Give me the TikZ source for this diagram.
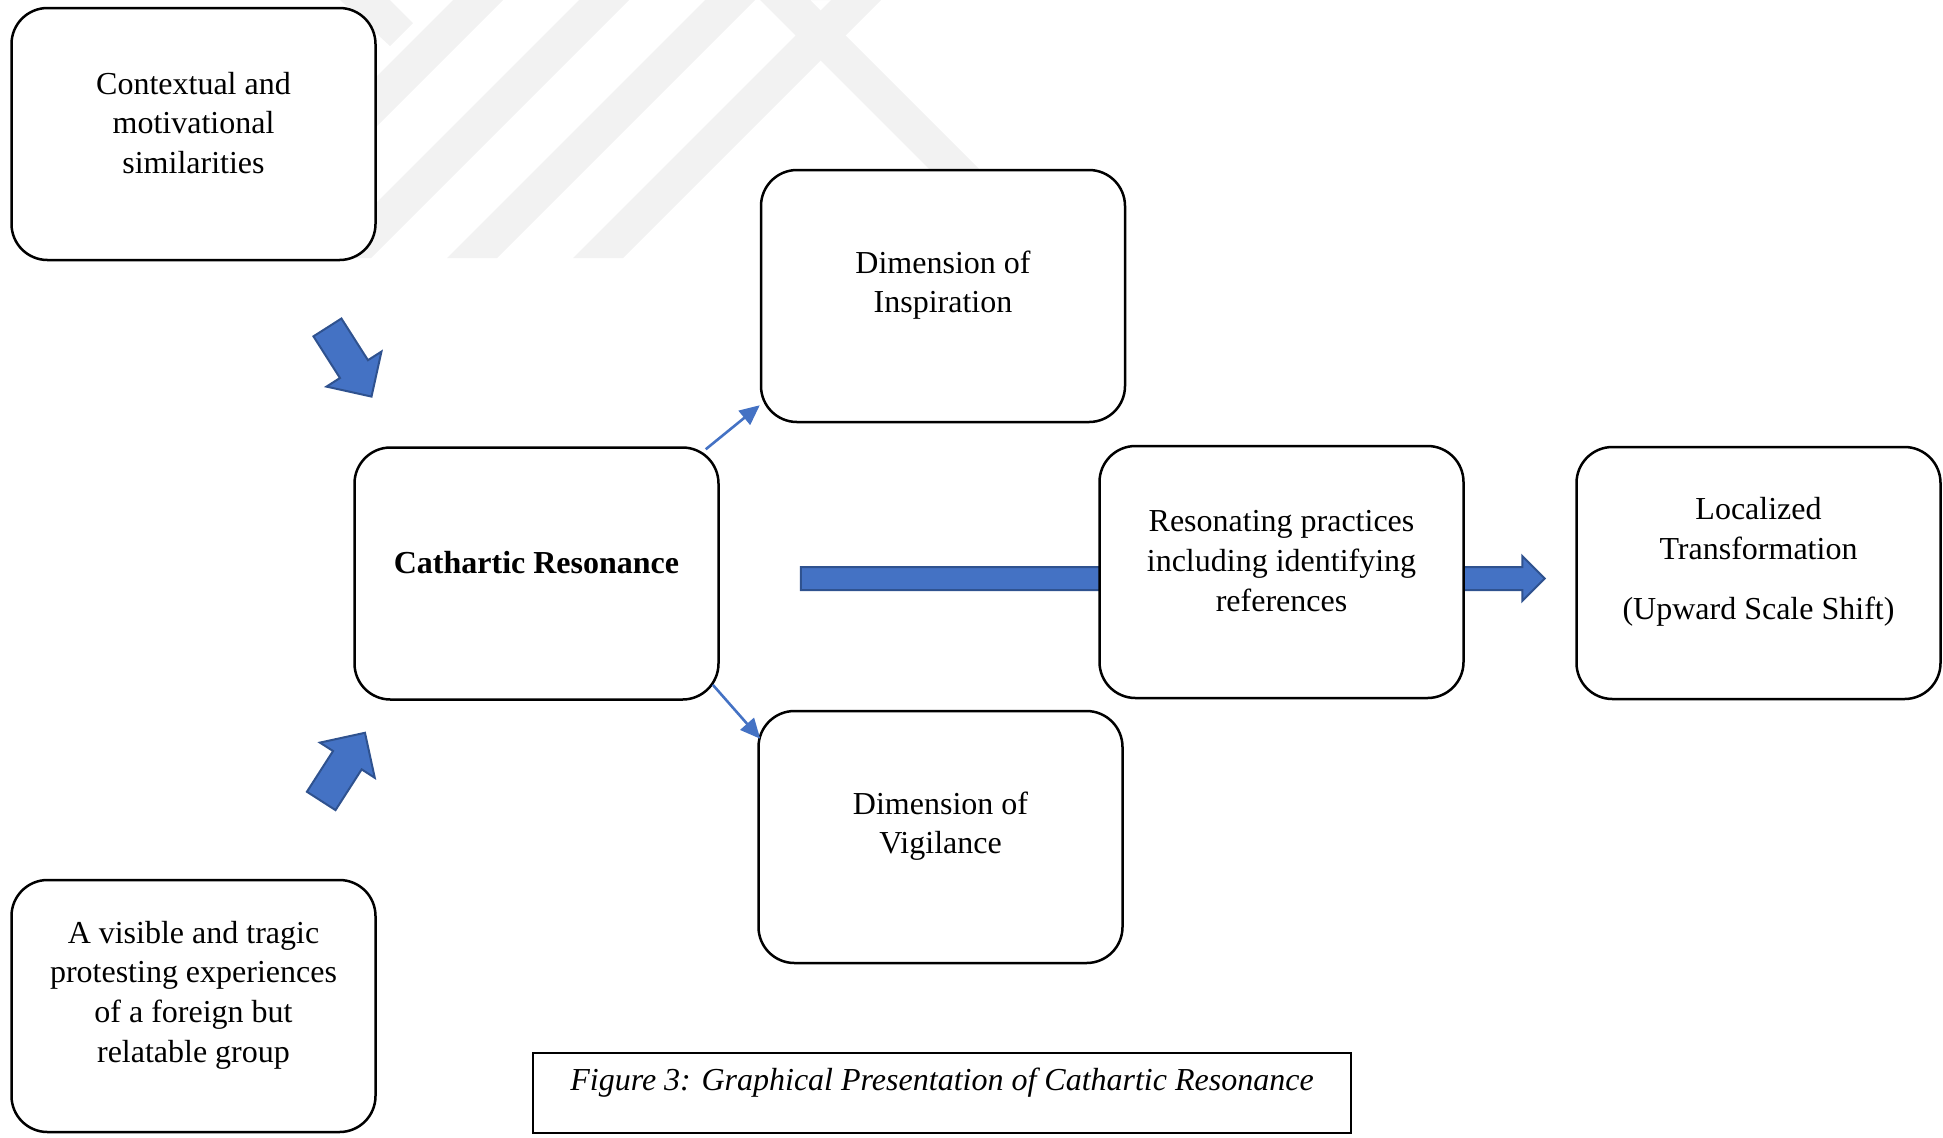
\documentclass[tikz,border=0pt]{standalone}
\usepackage{fontspec}
\setmainfont{Liberation Serif}
\usetikzlibrary{arrows.meta,shapes.arrows,calc,positioning}
\definecolor{accent}{RGB}{68,114,196}
\definecolor{accentdark}{RGB}{47,82,143}
\definecolor{wmgrey}{RGB}{242,242,242}
\tikzstyle{card}=[draw,line width=1.25pt,rounded corners=18pt,fill=white,minimum width=182pt,minimum height=126pt,inner sep=0pt]
\tikzstyle{card text}=[align=center,font=\fontsize{16}{19.8}\selectfont,inner sep=0pt]
\tikzstyle{thin link}=[draw=accent,line width=1.3pt,-{Triangle[length=10pt,width=9pt]}]
\tikzstyle{block arrow}=[single arrow,fill=accent,draw=accentdark,line width=1pt,inner xsep=0pt,single arrow tip angle=90]

\begin{document}
\begin{tikzpicture}[x=0.5pt,y=-0.5pt]
    \useasboundingbox (0,0) rectangle (1943,1137);

    % faint watermark behind the top left
    \begin{scope}
        \clip (160,0) rectangle (980,258);
        \foreach \c in {453,579,705,831}
            \fill[wmgrey] (\c,0) -- (\c+50,0) -- (\c+50-258,258) -- (\c-258,258) -- cycle;
        \fill[wmgrey] (880,0) -- (810,0) -- (1068,258) -- (1018,258) -- (760,0) -- (880,0) -- cycle;
        \fill[wmgrey] (340,0) -- (390,0) -- (413,23) -- (390,46) -- cycle;
    \end{scope}

    % the long arrow runs behind the practices box
    \node[block arrow, minimum height=372pt, inner ysep=5.25pt, single arrow head extend=5.5pt] (flow) at (1167,578.5) {};

    % First we draw the boxes
    \foreach \name/\where/\txt in {
        ctx/{(193.5,134)}/{Contextual and\\motivational\\similarities},
        insp/{(943,296)}/{Dimension of\\Inspiration},
        cath/{(536.5,573.5)}/{\textbf{Cathartic Resonance}},
        vig/{(940.5,837)}/{Dimension of\\Vigilance},
        reso/{(1281.5,572)}/{Resonating practices\\including identifying\\references},
        loc/{(1758.5,573)}/{Localized\\Transformation\\[10.5pt](Upward Scale Shift)},
        vis/{(193.5,1006)}/{A visible and tragic\\protesting experiences\\of a foreign but\\relatable group}}
    {
        \node[card] (\name) at \where {};
        \node[card text] (\name-t) at ([yshift=5.5pt]\name.center) {\txt};
    }

    % block arrows pointing into the central box
    \node[block arrow, minimum height=41pt, inner ysep=7.8pt, single arrow head extend=8pt, rotate=-57.5] (push-a) at (345,355) {};
    \node[block arrow, minimum height=40.5pt, inner ysep=8pt, single arrow head extend=7.8pt, rotate=57.3] (push-b) at (338.5,774) {};

    % Connect the central box with the two dimensions
    \draw[thin link] ($(cath.north east)+(-14,3)$) -- ($(insp.south west)+(0,-18)$);
    \draw[thin link] ($(cath.south east)+(-7,-16)$) -- ($(vig.north west)+(3,29)$);

    % caption
    \node[draw,line width=0.8pt,minimum width=409pt,minimum height=40pt,inner sep=0pt] (cap) at (942,1093) {};
    \node[card text] (cap-t) at ([yshift=5pt]cap.center) {\textit{Figure 3: Graphical Presentation of Cathartic Resonance}};
\end{tikzpicture}
\end{document}
